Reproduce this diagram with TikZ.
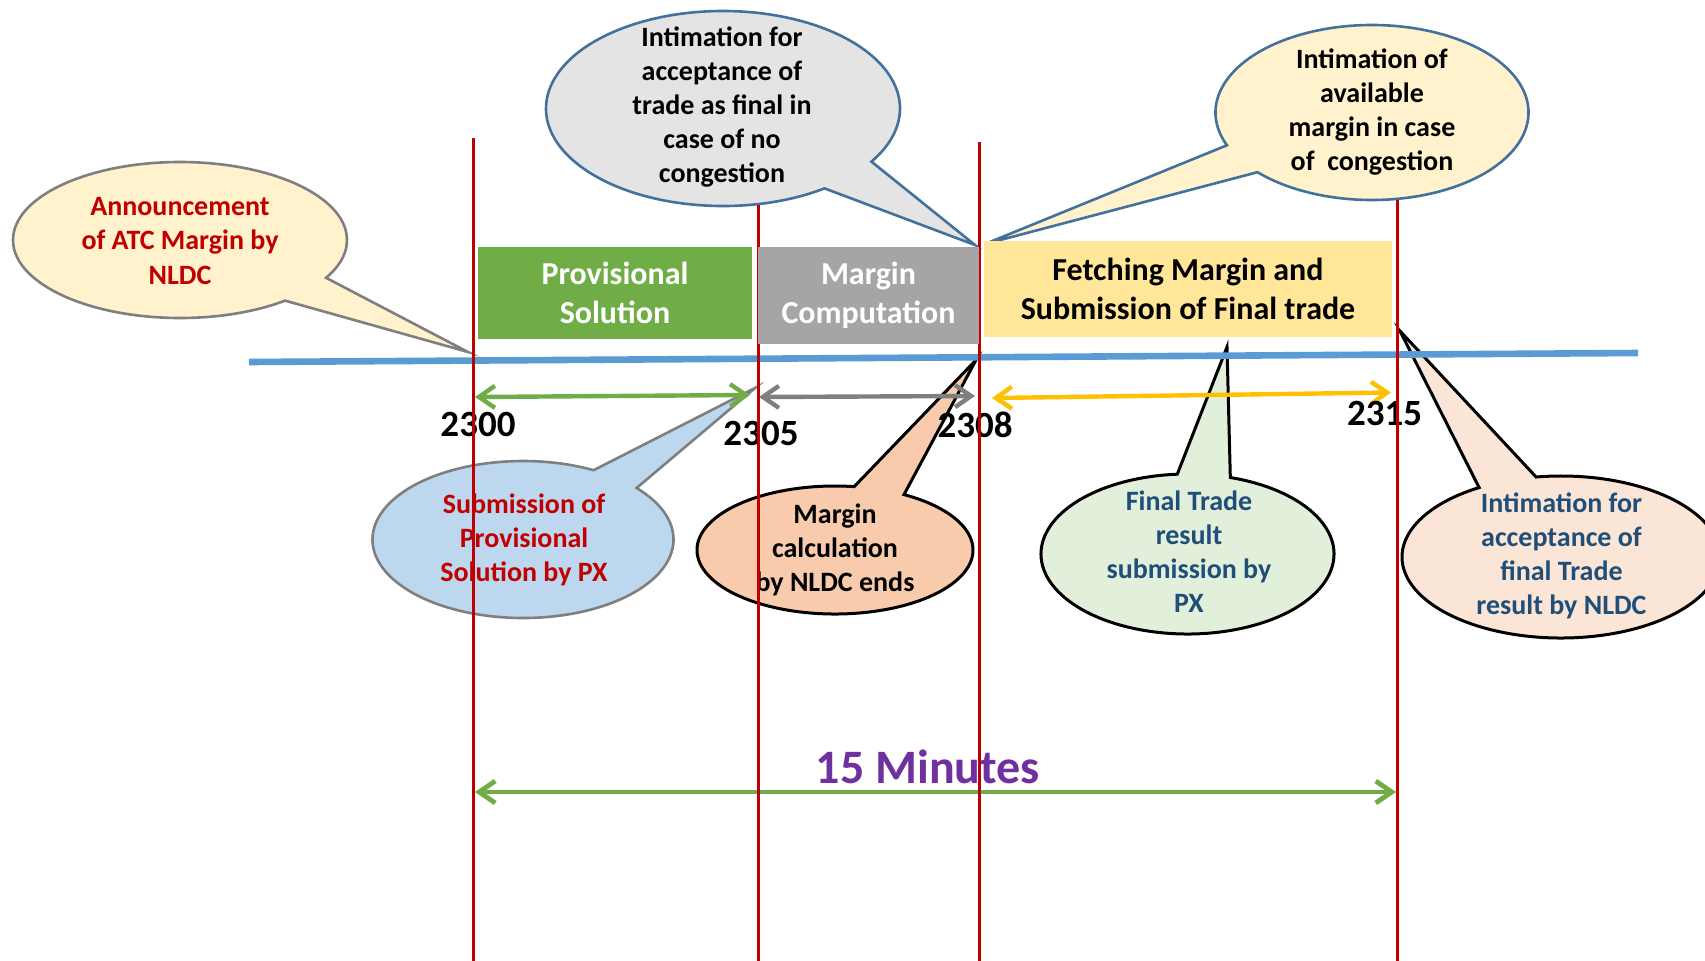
\documentclass[tikz,border=0pt]{standalone}
\usepackage{fontspec}
\setmainfont{Carlito}
\usetikzlibrary{arrows.meta}
\definecolor{redline}{HTML}{C00000}
\definecolor{blueline}{HTML}{5B9BD5}
\definecolor{pgreen}{HTML}{70AD47}
\definecolor{pgray}{HTML}{A5A5A5}
\definecolor{agray}{HTML}{7F7F7F}
\definecolor{pyellow}{HTML}{FFE699}
\definecolor{ayellow}{HTML}{FFC000}
\definecolor{cream}{HTML}{FFF2CC}
\definecolor{lgray}{HTML}{E4E4E4}
\definecolor{lblue}{HTML}{BDD7EE}
\definecolor{peach}{HTML}{F8CBAD}
\definecolor{lgreen}{HTML}{E2EFDA}
\definecolor{lpeach}{HTML}{FBE5D6}
\definecolor{sblue}{HTML}{41719C}
\definecolor{dblue}{HTML}{1F4E79}
\definecolor{purp}{HTML}{7030A0}
\newcommand\mybubble[8]{%
  \draw[#1] (#2,#3) ++(#7:#4 and #5) arc[start angle=#7, end angle=#6+360, x radius=#4, y radius=#5] -- (#8) -- cycle;}
\begin{document}
\begin{tikzpicture}[x=0.5pt,y=-0.5pt,
  ctext/.style={align=center, inner sep=0pt, font=\fontsize{14}{17}\selectfont\bfseries},
  boxnode/.style={align=center, inner sep=0pt, draw=none, font=\fontsize{16}{19.5}\selectfont\bfseries},
  tlabel/.style={inner sep=0pt, font=\fontsize{18.5}{22}\selectfont\bfseries},
  redl/.style={draw=redline, line width=1.5pt},
  dblarrow/.style={line width=2.2pt, {Straight Barb[length=8pt,width=11pt]}-{Straight Barb[length=8pt,width=11pt]}},
  bubgray/.style={line width=1.3pt, draw=agray},
  bubblue/.style={line width=1.3pt, draw=sblue},
  bubblack/.style={line width=1.5pt, draw=black}
]
\path[use as bounding box, clip] (0,0) rectangle (1705,960);
\fill[white] (0,0) rectangle (1705,960);

% callout tips
\coordinate (tipA) at (468,352);
\coordinate (tipB) at (975,245);
\coordinate (tipC) at (985,244);
\coordinate (tipD) at (755,388);
\coordinate (tipE) at (976,360);
\coordinate (tipF) at (1227,347);
\coordinate (tipG) at (1400,331);

% callouts
\mybubble{bubgray, fill=cream}{180}{240}{167}{78}{29}{51}{tipA}
\node[ctext, text=redline, font=\fontsize{14}{17.25}\selectfont\bfseries] (ann) at (180,241) {Announcement\\of ATC Margin by\\NLDC};

\mybubble{bubblue, fill=lgray}{723}{108.5}{177}{97.5}{33}{55}{tipB}
\node[ctext] (noc) at (722,107) {Intimation for\\acceptance of\\trade as final in\\case of no\\congestion};

\mybubble{bubblue, fill=cream}{1372}{112.5}{156.5}{87.5}{137}{158}{tipC}
\node[ctext] (cong) at (1372,112) {Intimation of\\available\\margin in case\\of~ congestion};

\mybubble{bubgray, fill=lblue}{523}{539.5}{150.5}{78.5}{-62}{-41}{tipD}
\node[ctext, text=redline] (subm) at (524,540) {Submission of\\Provisional\\Solution by PX};

\mybubble{bubblack, fill=peach}{835}{550}{138}{64}{-82}{-60}{tipE}
\node[ctext] (mcalc) at (835,550) {Margin\\calculation\\by NLDC ends};

\mybubble{bubblack, fill=lgreen}{1187.5}{554}{146.5}{80}{-94}{-73}{tipF}
\node[ctext, text=dblue] (ftr) at (1189,551.5) {Final Trade\\result\\submission by\\PX};

\mybubble{bubblack, fill=lpeach}{1561}{557}{159}{81}{-121}{-99}{tipG}
\node[ctext, text=dblue] (acc) at (1561.5,556) {Intimation for\\acceptance of\\final Trade\\result by NLDC};

% time axis
\coordinate (bl1) at (249,362);
\coordinate (bl2) at (1638,353);
\draw[blueline, line width=3.3pt] (bl1) -- (bl2);

% duration arrows
\coordinate (g1) at (475,397);
\coordinate (g2) at (750,395);
\coordinate (k1) at (759,397);
\coordinate (k2) at (975,396);
\coordinate (y1) at (992,398);
\coordinate (y2) at (1391,392.5);
\coordinate (m1) at (475,792);
\coordinate (m2) at (1396,792);
\draw[dblarrow, pgreen] (g1) -- (g2);
\draw[dblarrow, agray] (k1) -- (k2);
\draw[dblarrow, ayellow] (y1) -- (y2);
\draw[dblarrow, pgreen, line width=2.4pt] (m1) -- (m2);

% labels
\node[tlabel] (t2300) at (478,424.5) {2300};
\node[tlabel] (t2305) at (761,433) {2305};
\node[tlabel] (t2308) at (975,425) {2308};
\node[tlabel] (t2315) at (1384.5,413.5) {2315};
\node[inner sep=0pt, text=purp, font=\fontsize{24}{28}\selectfont\bfseries] (mins) at (928,767) {15 Minutes};

% red time markers
\coordinate (r1a) at (473,138);  \coordinate (r1b) at (473,965);
\coordinate (r2a) at (758,205);  \coordinate (r2b) at (758,965);
\coordinate (r3a) at (979,142);  \coordinate (r3b) at (979,965);
\coordinate (r4a) at (1397,200); \coordinate (r4b) at (1397,965);
\draw[redl] (r1a) -- (r1b);
\draw[redl] (r2a) -- (r2b);
\draw[redl] (r3a) -- (r3b);
\draw[redl] (r4a) -- (r4b);

% phase boxes
\node[boxnode, fill=pgreen, text=white, minimum width=137pt, minimum height=46pt] (prov) at (615,293) {Provisional\\Solution};
\node[boxnode, fill=pgray, text=white, minimum width=110.5pt, minimum height=48.5pt] (mcomp) at (868.5,295.5) {Margin\\Computation};
\node[boxnode, fill=pyellow, text=black, minimum width=204pt, minimum height=48pt] (fetch) at (1188,289) {Fetching Margin and\\Submission of Final trade};
\end{tikzpicture}
\end{document}
